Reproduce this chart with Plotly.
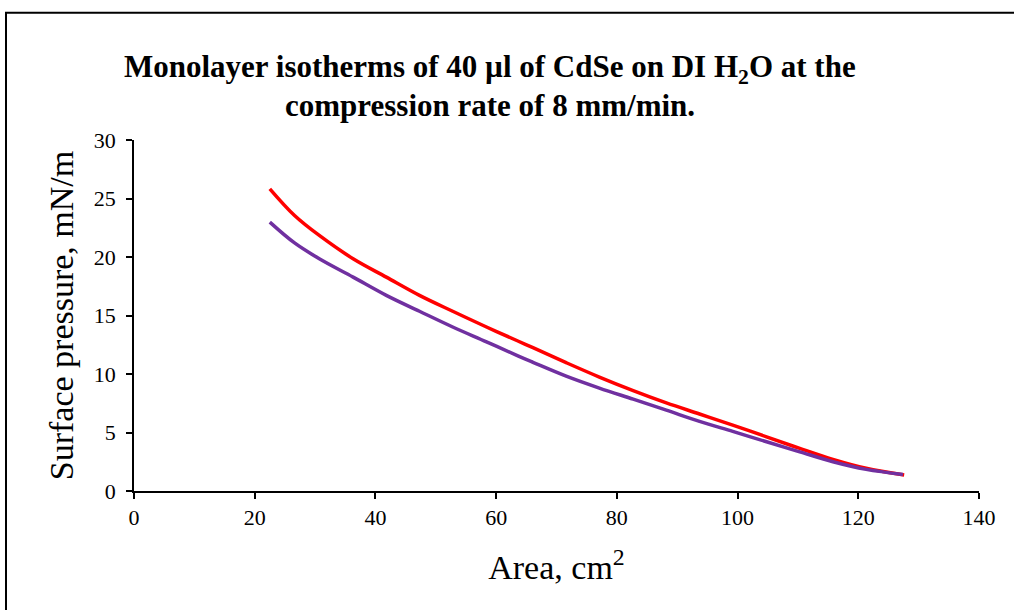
import plotly.graph_objects as go

# Data
red_area = [22.5, 26.6, 30.7, 36.3, 41.8, 47.3, 52.8, 58.4, 63.6, 66.1, 71.6,
            77.1, 82.7, 88.2, 93.7, 99.2, 104.8, 110.3, 115.8, 121.3, 127.6]
red_pressure = [25.83, 23.55, 21.84, 19.85, 18.28, 16.72, 15.36, 14.02, 12.82, 12.25, 10.97,
                9.74, 8.58, 7.53, 6.58, 5.63, 4.63, 3.64, 2.70, 1.94, 1.37]

purple_area = [22.5, 26.6, 30.7, 36.3, 41.8, 47.3, 52.8, 58.4, 63.6, 66.1, 71.6,
               77.1, 82.7, 88.2, 93.7, 99.2, 104.8, 110.3, 115.8, 121.3, 127.4]
purple_pressure = [22.98, 21.20, 19.85, 18.28, 16.72, 15.36, 14.02, 12.75, 11.55, 11.00, 9.82,
                   8.80, 7.85, 6.91, 5.95, 5.09, 4.21, 3.35, 2.50, 1.85, 1.42]

x_ticks = [0, 20, 40, 60, 80, 100, 120, 140]
y_ticks = [0, 5, 10, 15, 20, 25, 30]

title_line1 = "<b>Monolayer isotherms of 40 µl of CdSe on DI H<sub>2</sub>O at the</b>"
title_line2 = "<b>compression rate of 8 mm/min.</b>"

FONT = "Liberation Serif, Times New Roman, serif"

fig = go.Figure()
fig.add_trace(go.Scatter(x=red_area, y=red_pressure, mode="lines",
                         line=dict(color="#FF0000", width=3.5, shape="spline", smoothing=1.0),
                         showlegend=False))
fig.add_trace(go.Scatter(x=purple_area, y=purple_pressure, mode="lines",
                         line=dict(color="#7030A0", width=3.5, shape="spline", smoothing=1.0),
                         showlegend=False))

title_x = (490 - 134) / 845
fig.update_layout(
    width=1014, height=610,
    margin=dict(l=134, r=35, t=139.5, b=119, pad=0),
    paper_bgcolor="white", plot_bgcolor="white",
    font=dict(family=FONT, color="black"),
    annotations=[
        dict(text=title_line1, xref="paper", yref="paper", x=title_x, y=(491 - 68) / 351.5,
             xanchor="center", yanchor="middle", showarrow=False,
             font=dict(family=FONT, size=31, color="black")),
        dict(text=title_line2, xref="paper", yref="paper", x=title_x, y=(491 - 105) / 351.5,
             xanchor="center", yanchor="middle", showarrow=False,
             font=dict(family=FONT, size=31, color="black")),
    ],
    xaxis=dict(
        range=[0, 140], tickvals=x_ticks, ticktext=[str(v) for v in x_ticks],
        showgrid=False, zeroline=False, showline=True, linecolor="black", linewidth=1.5,
        ticks="outside", ticklen=6, tickwidth=1.5, tickcolor="black",
        tickfont=dict(family=FONT, size=22, color="black"),
        title=dict(text="Area, cm<sup>2</sup>", font=dict(family=FONT, size=34, color="black"), standoff=26),
    ),
    yaxis=dict(
        range=[0, 30], tickvals=y_ticks, ticktext=[str(v) for v in y_ticks],
        showgrid=False, zeroline=False, showline=True, linecolor="black", linewidth=1.5,
        ticks="outside", ticklen=6, tickwidth=1.5, tickcolor="black",
        tickfont=dict(family=FONT, size=22, color="black"),
        ticklabelstandoff=6,
        title=dict(text="Surface pressure, mN/m", font=dict(family=FONT, size=34, color="black"), standoff=10),
    ),
    shapes=[dict(type="rect", xref="paper", yref="paper",
                 x0=(6 - 134) / 845, x1=(1040 - 134) / 845,
                 y0=(491 - 640) / 351.5, y1=(491 - 12) / 351.5,
                 line=dict(color="black", width=2), fillcolor="rgba(0,0,0,0)", layer="below")],
)

fig.write_html("out.html", config={"displayModeBar": False},
               post_script="document.body.style.margin='0px';")
